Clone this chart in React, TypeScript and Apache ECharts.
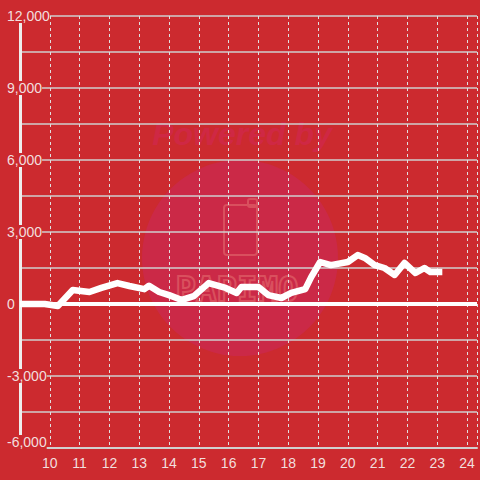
import React, { useEffect, useRef } from "react";
import * as echarts from "echarts";

const xValues = [9.0, 9.83, 10.27, 10.77, 11.33, 11.73, 12.27, 12.67, 13.17, 13.33, 13.67, 14.0, 14.43, 14.83, 15.33, 15.9, 16.27, 16.43, 17.0, 17.33, 17.77, 18.1, 18.57, 18.77, 19.07, 19.43, 20.0, 20.33, 20.57, 20.9, 21.23, 21.57, 21.9, 22.27, 22.57, 22.77, 23.17];
const yValues = [0, 0, -80, 580, 500, 670, 870, 750, 620, 760, 500, 370, 170, 330, 870, 670, 460, 710, 710, 370, 250, 460, 620, 1120, 1750, 1620, 1750, 2040, 1920, 1620, 1500, 1210, 1710, 1290, 1500, 1330, 1330];
const xTickLabels = [10, 11, 12, 13, 14, 15, 16, 17, 18, 19, 20, 21, 22, 23, 24];
const yTickLabels = [12000, 9000, 6000, 3000, 0, -3000, -6000];

const BG = "#cc2a2f";
const TEXT = "#f2dede";
const FONT = "'Liberation Sans', Arial, sans-serif";

export default function App() {
  const ref = useRef<HTMLDivElement>(null);
  useEffect(() => {
    if (!ref.current) return;
    const chart = echarts.init(ref.current, undefined, { renderer: "svg" });
    const fmtNum = (v: number) => v.toLocaleString("en-US");
    chart.setOption({
      animation: false,
      backgroundColor: BG,
      grid: { left: 20, right: 0, top: 16, bottom: 32, containLabel: false },
      graphic: [
        { type: "circle", z: -10, silent: true, shape: { cx: 240, cy: 258, r: 98 }, style: { fill: "#cb2947" } },
        {
          type: "text", z: -9, silent: true, x: 242, y: 134,
          style: { text: "Powered by", fontSize: 32, fontWeight: "bold", fontStyle: "italic", fontFamily: FONT, fill: "#cf2844", align: "center", verticalAlign: "middle" },
        },
        { type: "rect", z: -9, silent: true, shape: { x: 224, y: 205, width: 33, height: 50, r: 3 }, style: { fill: "none", stroke: "#d9505e", lineWidth: 2 } },
        { type: "rect", z: -9, silent: true, shape: { x: 248, y: 199, width: 9, height: 8, r: 2 }, style: { fill: "none", stroke: "#d9505e", lineWidth: 2 } },
        {
          type: "text", z: -9, silent: true, x: 237, y: 289,
          style: { text: "PAPIMO", fontSize: 34, fontWeight: "bold", fontFamily: "'DejaVu Sans Mono', monospace", fill: "none", stroke: "#d9505e", lineWidth: 2, align: "center", verticalAlign: "middle" },
        },
      ],
      xAxis: {
        type: "value",
        min: 9,
        max: 24.3334,
        interval: 1,
        axisLine: { show: true, onZero: false, lineStyle: { color: "#d0d0d0", width: 2 } },
        axisTick: { show: false },
        axisLabel: {
          color: TEXT,
          fontSize: 14,
          fontFamily: FONT,
          margin: 8,
          formatter: (v: number) => (xTickLabels.includes(v) ? String(v) : ""),
        },
        splitLine: { show: true, lineStyle: { color: "#e0e0e0", width: 1, type: [3, 3] } },
      },
      yAxis: {
        type: "value",
        min: -6000,
        max: 12000,
        interval: 1500,
        axisLine: { show: true, lineStyle: { color: "#eeeeee", width: 3 } },
        axisTick: { show: false },
        axisLabel: {
          color: TEXT,
          fontSize: 14,
          fontFamily: FONT,
          align: "left",
          margin: 13,
          backgroundColor: BG,
          formatter: (v: number) => {
            if (!yTickLabels.includes(v)) return "";
            if (v === -6000) return "{b|" + fmtNum(v) + "}";
            return fmtNum(v);
          },
          rich: {
            b: { color: TEXT, fontSize: 14, fontFamily: FONT, padding: [0, 0, 12, 0] },
          },
        },
        splitLine: { show: true, lineStyle: { color: "#cfcfcf", width: 1.5 } },
      },
      series: [
        {
          type: "line",
          data: xValues.map((x, i) => [x, yValues[i]]),
          symbol: "none",
          lineStyle: { color: "#ffffff", width: 6.5, join: "round" },
          markLine: {
            silent: true,
            symbol: "none",
            label: { show: false },
            lineStyle: { color: "#ffffff", width: 4, type: "solid" },
            data: [{ yAxis: 0 }],
          },
          z: 3,
        },
      ],
    });
    return () => chart.dispose();
  }, []);
  return <div ref={ref} style={{ position: "fixed", left: 0, top: 0, width: 480, height: 480 }} />;
}
